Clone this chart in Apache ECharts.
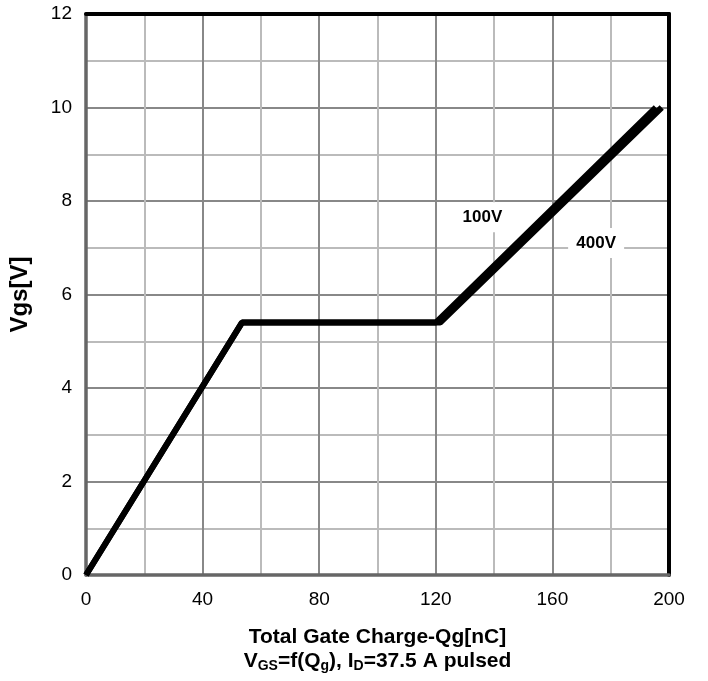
<!DOCTYPE html>
<html>
<head>
<meta charset="utf-8">
<script src="https://cdn.jsdelivr.net/npm/echarts@6/dist/echarts.min.js"></script>
<style>
  html, body { margin: 0; padding: 0; background: #fff; }
  #chart { width: 708px; height: 681px; }
</style>
</head>
<body>
<div id="chart"></div>
<script>
// gate charge curves, [Qg nC, Vgs V]
const curve100V = [[0, 0], [53.5, 5.4], [120, 5.4], [195.5, 10]];
const curve400V = [[0, 0], [53.5, 5.4], [121.5, 5.4], [197.5, 10]];
const labelPos100V = [136, 7.65];
const labelPos400V = [175, 7.1];
const xTicks = [0, 40, 80, 120, 160, 200];
const yTicks = [0, 2, 4, 6, 8, 10, 12];

const font = 'Liberation Sans, Arial, sans-serif';
const chart = echarts.init(document.getElementById('chart'));

const lineStyle = { color: '#000', width: 6 };
const labelStyle = { show: true, color: '#000', fontSize: 17, fontWeight: 'bold', fontFamily: font };

// black frame on top and right
const frameAxis = { show: true, onZero: false, lineStyle: { color: '#000', width: 4 } };

chart.setOption({
  animation: false,
  grid: { left: 84, right: 39, top: 14, bottom: 106 },
  xAxis: [{
    type: 'value', min: 0, max: 200, interval: 20,
    axisLine: { show: true, onZero: false, lineStyle: { color: '#666', width: 3.5 } },
    axisTick: { show: false },
    axisLabel: {
      color: '#000', fontSize: 19, fontFamily: font, margin: 15,
      formatter: v => xTicks.includes(v) ? String(v) : ''
    },
    splitLine: { show: true, lineStyle: { color: ['#888', '#bbb'], width: 2 } },
    name: '{t|Total Gate Charge-Qg[nC]}\n{b|V}{s|GS}{b|=f(Q}{s|g}{b|), I}{s|D}{b|=37.5 A pulsed}',
    nameLocation: 'middle', nameGap: 50,
    nameTextStyle: {
      fontFamily: font,
      rich: {
        t: { fontSize: 21, fontWeight: 'bold', color: '#000', fontFamily: font, lineHeight: 24 },
        b: { fontSize: 21, fontWeight: 'bold', color: '#000', fontFamily: font, lineHeight: 24 },
        s: { fontSize: 14, fontWeight: 'bold', color: '#000', fontFamily: font, verticalAlign: 'bottom', lineHeight: 24, padding: [9, 0, 0, 0] }
      }
    }
  }, {
    type: 'value', min: 0, max: 200, position: 'top',
    axisLine: frameAxis, axisTick: { show: false }, axisLabel: { show: false }, splitLine: { show: false }
  }],
  yAxis: [{
    type: 'value', min: 0, max: 12, interval: 1,
    axisLine: { show: true, onZero: false, lineStyle: { color: '#666', width: 3.5 } },
    axisTick: { show: false },
    axisLabel: {
      color: '#000', fontSize: 19, fontFamily: font, margin: 14,
      formatter: v => yTicks.includes(v) ? String(v) : ''
    },
    splitLine: { show: true, lineStyle: { color: ['#888', '#bbb'], width: 2 } },
    name: 'Vgs[V]', nameLocation: 'middle', nameGap: 54,
    nameTextStyle: { fontSize: 24, fontWeight: 'bold', color: '#000', fontFamily: font }
  }, {
    type: 'value', min: 0, max: 12, position: 'right',
    axisLine: frameAxis, axisTick: { show: false }, axisLabel: { show: false }, splitLine: { show: false }
  }],
  series: [
    {
      name: '100V', type: 'line', data: curve100V, symbol: 'none',
      lineStyle: lineStyle, z: 3,
      markPoint: {
        symbol: 'rect', symbolSize: [56, 30],
        itemStyle: { color: '#fff' },
        label: Object.assign({ formatter: '100V' }, labelStyle),
        data: [{ coord: labelPos100V }]
      }
    },
    {
      name: '400V', type: 'line', data: curve400V, symbol: 'none',
      lineStyle: lineStyle, z: 3,
      markPoint: {
        symbol: 'rect', symbolSize: [56, 30],
        itemStyle: { color: '#fff' },
        label: Object.assign({ formatter: '400V' }, labelStyle),
        data: [{ coord: labelPos400V }]
      }
    }
  ]
});
</script>
</body>
</html>
